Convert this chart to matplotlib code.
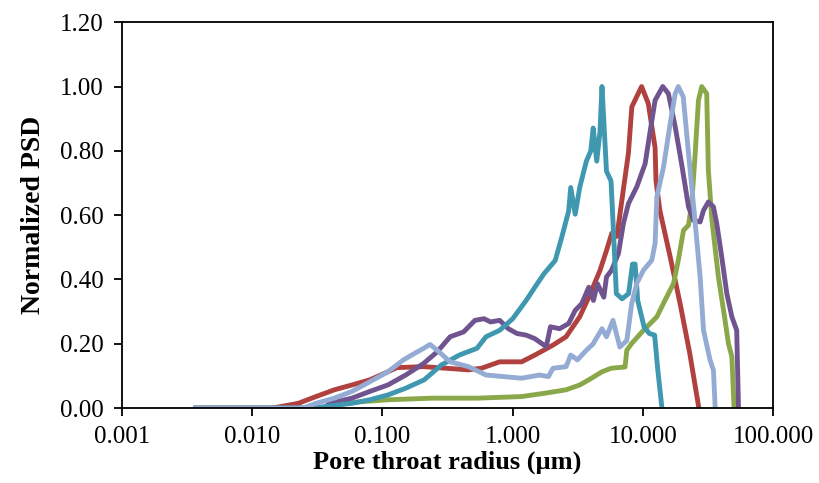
import matplotlib.pyplot as plt
from matplotlib.ticker import FixedLocator, FixedFormatter

plt.rcParams["font.family"] = ["Liberation Serif", "DejaVu Serif"]

# ── data (pore throat radius in µm, normalized PSD) ───────────────────────────
red_r = [0.0037, 0.0141, 0.0166, 0.0226, 0.0309, 0.0427, 0.0583, 0.080, 0.110, 0.129,
         0.207, 0.309, 0.457, 0.575, 0.794, 1.17, 1.48, 2.04, 2.57, 3.27, 3.84, 4.68,
         5.25, 5.77, 6.31, 7.74, 8.22, 8.71, 9.77, 11.0, 12.4, 12.6, 13.5, 16.2, 19.3,
         22.9, 26.9]
red_v = [0, 0, 0.005, 0.015, 0.036, 0.057, 0.072, 0.088, 0.113, 0.126,
         0.129, 0.124, 0.119, 0.124, 0.144, 0.144, 0.165, 0.196, 0.222, 0.284, 0.345, 0.428,
         0.49, 0.544, 0.534, 0.793, 0.937, 0.958, 1.0, 0.947, 0.81, 0.707, 0.614, 0.47, 0.325,
         0.17, 0]

green_r = [0.0037, 0.0355, 0.0427, 0.0684, 0.110, 0.242, 0.532, 1.17, 1.74, 2.57, 3.27,
           3.84, 4.85, 5.69, 7.29, 7.52, 8.20, 10.1, 12.8, 14.8, 17.2, 18.7, 20.5, 22.4,
           23.7, 25.1, 26.7, 28.3, 30.9, 31.8, 33.9, 38.0, 42.7, 45.4, 48.2, 50.1]
green_v = [0, 0, 0.01, 0.02, 0.026, 0.031, 0.031, 0.036, 0.046, 0.057, 0.072,
           0.088, 0.113, 0.124, 0.128, 0.18, 0.201, 0.242, 0.284, 0.336, 0.388, 0.46, 0.553, 0.569,
           0.636, 0.781, 0.957, 1.0, 0.978, 0.74, 0.584, 0.408, 0.274, 0.2, 0.16, 0]

purple_r = [0.0037, 0.0355, 0.0394, 0.0583, 0.080, 0.110, 0.151, 0.207, 0.263, 0.331,
            0.420, 0.513, 0.603, 0.676, 0.794, 0.925, 1.08, 1.27, 1.48, 1.81, 1.95, 2.29,
            2.69, 3.02, 3.39, 3.84, 4.17, 4.47, 5.01, 5.25, 5.75, 6.49, 7.08, 7.74, 8.97,
            10.4, 11.4, 12.4, 14.2, 15.7, 17.7, 20.0, 22.4, 24.4, 27.5, 29.2, 31.8, 34.8,
            36.9, 40.3, 44.1, 48.2, 52.5, 54.2]
purple_v = [0, 0, 0.015, 0.031, 0.052, 0.072, 0.103, 0.139, 0.175, 0.222,
            0.237, 0.273, 0.278, 0.268, 0.273, 0.247, 0.232, 0.227, 0.216, 0.191, 0.253, 0.247,
            0.263, 0.304, 0.325, 0.376, 0.335, 0.387, 0.345, 0.408, 0.429, 0.481, 0.574, 0.636, 0.688,
            0.76, 0.864, 0.957, 1.0, 0.978, 0.875, 0.75, 0.626, 0.584, 0.579, 0.615, 0.641, 0.626,
            0.574, 0.47, 0.356, 0.284, 0.242, 0]

teal_r = [0.0037, 0.029, 0.058, 0.080, 0.110, 0.151, 0.209, 0.283, 0.389, 0.532, 0.624,
          0.794, 1.0, 1.27, 1.48, 1.74, 2.12, 2.38, 2.69, 2.79, 3.02, 3.27, 3.68, 3.98,
          4.15, 4.42, 4.68, 4.85, 5.25, 5.69, 5.92, 6.25, 6.92, 7.76, 8.32, 8.71, 9.12,
          10.2, 11.2, 12.3, 13.0, 14.0]
teal_v = [0, 0, 0.015, 0.026, 0.041, 0.062, 0.088, 0.134, 0.165, 0.186, 0.222,
          0.242, 0.278, 0.335, 0.376, 0.418, 0.459, 0.531, 0.613, 0.686, 0.603, 0.686, 0.768, 0.80,
          0.871, 0.768, 0.86, 1.0, 0.737, 0.706, 0.562, 0.356, 0.34, 0.356, 0.448, 0.448, 0.335,
          0.253, 0.232, 0.227, 0.12, 0]

blue_r = [0.0037, 0.0245, 0.0309, 0.0427, 0.0583, 0.080, 0.110, 0.145, 0.176, 0.207,
          0.232, 0.263, 0.331, 0.457, 0.624, 0.855, 1.17, 1.61, 1.88, 2.04, 2.57, 2.79,
          3.14, 3.68, 4.15, 4.85, 5.25, 5.89, 6.65, 7.52, 8.20, 8.97, 10.1, 11.7, 12.4,
          12.8, 14.4, 16.2, 17.7, 18.7, 20.4, 22.4, 25.1, 27.5, 29.2, 32.8, 34.8, 35.9]
blue_v = [0, 0, 0.015, 0.031, 0.052, 0.082, 0.113, 0.15, 0.17, 0.186,
          0.198, 0.18, 0.144, 0.129, 0.103, 0.098, 0.093, 0.103, 0.098, 0.124, 0.129, 0.165,
          0.15, 0.18, 0.20, 0.247, 0.222, 0.273, 0.19, 0.21, 0.325, 0.388, 0.429, 0.46, 0.512,
          0.657, 0.75, 0.885, 0.978, 1.0, 0.968, 0.792, 0.584, 0.408, 0.242, 0.149, 0.118, 0]

x_ticks = [0.001, 0.01, 0.1, 1, 10, 100]
x_labels = ["0.001", "0.010", "0.100", "1.000", "10.000", "100.000"]
y_ticks = [0, 0.2, 0.4, 0.6, 0.8, 1.0, 1.2]

# ── figure ───────────────────────────────────────────────────────────────────
fig = plt.figure(figsize=(8.19, 4.83), dpi=100)
ax = fig.add_axes([0.149, 0.155, 0.795, 0.799])

lw = 3.5
ax.plot(red_r, red_v, color="#B0413E", lw=lw, solid_joinstyle="round")
ax.plot(green_r, green_v, color="#8AA84A", lw=lw, solid_joinstyle="round")
ax.plot(purple_r, purple_v, color="#6F548F", lw=lw, solid_joinstyle="round")
ax.plot(teal_r, teal_v, color="#3F97B0", lw=lw, solid_joinstyle="round")
ax.plot(blue_r, blue_v, color="#94ACD4", lw=lw, solid_joinstyle="round")

ax.set_xscale("log")
ax.set_xlim(0.001, 100)
ax.set_ylim(0, 1.2)
ax.xaxis.set_major_locator(FixedLocator(x_ticks))
ax.xaxis.set_major_formatter(FixedFormatter(x_labels))
ax.xaxis.set_minor_locator(FixedLocator([]))
ax.set_yticks(y_ticks)
ax.set_yticklabels([f"{v:.2f}" for v in y_ticks])

for s in ax.spines.values():
    s.set_linewidth(1.3)
    s.set_color("black")
ax.tick_params(axis="both", direction="out", length=6, width=1.3,
               labelsize=18, pad=7)

ax.set_xlabel("Pore throat radius (\u00b5m)", fontsize=19, fontweight="bold", labelpad=2)
ax.set_ylabel("Normalized PSD", fontsize=20, fontweight="bold", labelpad=10)

fig.savefig("out.png", dpi=100)
